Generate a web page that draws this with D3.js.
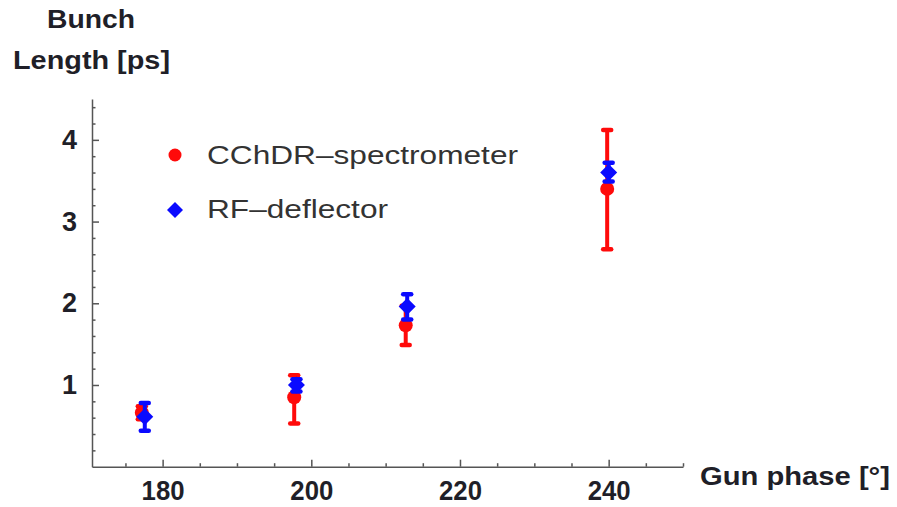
<!DOCTYPE html>
<html><head><meta charset="utf-8">
<script src="https://cdn.jsdelivr.net/npm/d3@7"></script>
<style>
body{margin:0;background:#fff;}
svg{display:block;font-family:"Liberation Sans",Arial,sans-serif;}
</style></head>
<body>
<svg id="c" width="897" height="507"></svg>
<script>
// ---- data ----
const cchdrPhase = [177.2, 197.7, 212.7, 239.8];
const cchdrLength = [0.66, 0.85, 1.73, 3.40];
const cchdrLow = [0.58, 0.53, 1.49, 2.66];
const cchdrHigh = [0.74, 1.12, 1.97, 4.12];
const rfPhase = [177.6, 198.0, 212.9, 240.0];
const rfLength = [0.61, 1.00, 1.96, 3.60];
const rfLow = [0.44, 0.92, 1.80, 3.49];
const rfHigh = [0.78, 1.07, 2.11, 3.72];
const xMajorTicks = [180, 200, 220, 240];
const xMinorTicks = [175, 185, 190, 195, 205, 210, 215, 225, 230, 235, 245, 250];
const yMajorTicks = [1, 2, 3, 4];
const yMinorTicks = [0.2,0.4,0.6,0.8,1.2,1.4,1.6,1.8,2.2,2.4,2.6,2.8,3.2,3.4,3.6,3.8,4.2,4.4];
const seriesNames = ["CChDR\u2013spectrometer", "RF\u2013deflector"];

const svg = d3.select("#c");
const x = d3.scaleLinear().domain([170.5, 250]).range([92, 683]);
const y = d3.scaleLinear().domain([0, 4.5]).range([466.7, 99]);
const axisColor = "#555";
const txt = "#1f1f28";

// x axis
const gx = svg.append("g").attr("transform", `translate(0,${y(0)})`);
gx.call(d3.axisBottom(x).tickValues(xMajorTicks).tickSize(-7).tickSizeOuter(0).tickPadding(20).tickFormat(d3.format("d")));
gx.append("g").call(d3.axisBottom(x).tickValues(xMinorTicks).tickSize(-3.5).tickSizeOuter(0).tickFormat(""))
  .select(".domain").remove();
gx.selectAll("path,line").attr("stroke", axisColor).attr("stroke-width", 1.5);
gx.selectAll("text").attr("font-size", 27).attr("font-weight", "bold").attr("fill", txt).attr("dy", "0.5em")
  .attr("textLength", 43).attr("lengthAdjust", "spacingAndGlyphs");

// y axis
const gy = svg.append("g").attr("transform", `translate(${x(170.5)},0)`);
gy.call(d3.axisLeft(y).tickValues(yMajorTicks).tickSize(-7).tickSizeOuter(0).tickPadding(15).tickFormat(d3.format("d")));
gy.append("g").call(d3.axisLeft(y).tickValues(yMinorTicks).tickSize(-3.5).tickSizeOuter(0).tickFormat(""))
  .select(".domain").remove();
gy.selectAll("path,line").attr("stroke", axisColor).attr("stroke-width", 1.5);
gy.selectAll("text").attr("font-size", 27).attr("font-weight", "bold").attr("fill", txt);

// axis titles
svg.append("text").attr("x", 47).attr("y", 28).attr("font-size", 25).attr("font-weight", "bold").attr("fill", txt)
  .attr("textLength", 88).attr("lengthAdjust", "spacingAndGlyphs").text("Bunch");
svg.append("text").attr("x", 13).attr("y", 69).attr("font-size", 25).attr("font-weight", "bold").attr("fill", txt)
  .attr("textLength", 157).attr("lengthAdjust", "spacingAndGlyphs").text("Length [ps]");
svg.append("text").attr("x", 700).attr("y", 485).attr("font-size", 26).attr("font-weight", "bold").attr("fill", txt)
  .attr("textLength", 190).attr("lengthAdjust", "spacingAndGlyphs").text("Gun phase [\u00b0]");

// error bars helper
function errorBars(g, xs, lo, hi, color, w) {
  const d = xs.map((v, i) => ({x: v, lo: lo[i], hi: hi[i]}));
  const s = g.selectAll("g.eb").data(d).join("g").attr("class", "eb");
  s.append("line").attr("x1", e => x(e.x)).attr("x2", e => x(e.x)).attr("y1", e => y(e.lo)).attr("y2", e => y(e.hi))
    .attr("stroke", color).attr("stroke-width", 4);
  s.append("line").attr("x1", e => x(e.x) - w).attr("x2", e => x(e.x) + w).attr("y1", e => y(e.lo)).attr("y2", e => y(e.lo))
    .attr("stroke", color).attr("stroke-width", 4.5).attr("stroke-linecap", "round");
  s.append("line").attr("x1", e => x(e.x) - w).attr("x2", e => x(e.x) + w).attr("y1", e => y(e.hi)).attr("y2", e => y(e.hi))
    .attr("stroke", color).attr("stroke-width", 4.5).attr("stroke-linecap", "round");
}

const red = "#ff0a0a", blue = "#0a0aff";
const gr = svg.append("g");
errorBars(gr, cchdrPhase, cchdrLow, cchdrHigh, red, 4);
gr.selectAll("circle").data(cchdrPhase).join("circle")
  .attr("cx", d => x(d)).attr("cy", (d, i) => y(cchdrLength[i])).attr("r", 7).attr("fill", red);

const gb = svg.append("g");
errorBars(gb, rfPhase, rfLow, rfHigh, blue, 4);
const diamond = (cx, cy, r) => `M${cx},${cy - r}L${cx + r},${cy}L${cx},${cy + r}L${cx - r},${cy}Z`;
gb.selectAll("path.d").data(rfPhase).join("path").attr("class", "d")
  .attr("d", (d, i) => diamond(x(d), y(rfLength[i]), 8.5)).attr("fill", blue);

// legend
const lg = svg.append("g");
lg.append("circle").attr("cx", 175).attr("cy", 155).attr("r", 6.5).attr("fill", red);
lg.append("path").attr("d", diamond(175, 210, 8)).attr("fill", blue);
lg.append("text").attr("x", 207).attr("y", 163.5).attr("font-size", 26).attr("fill", "#333")
  .attr("textLength", 311).attr("lengthAdjust", "spacingAndGlyphs").text(seriesNames[0]);
lg.append("text").attr("x", 207).attr("y", 218).attr("font-size", 26).attr("fill", "#333")
  .attr("textLength", 181).attr("lengthAdjust", "spacingAndGlyphs").text(seriesNames[1]);
</script>
</body></html>
